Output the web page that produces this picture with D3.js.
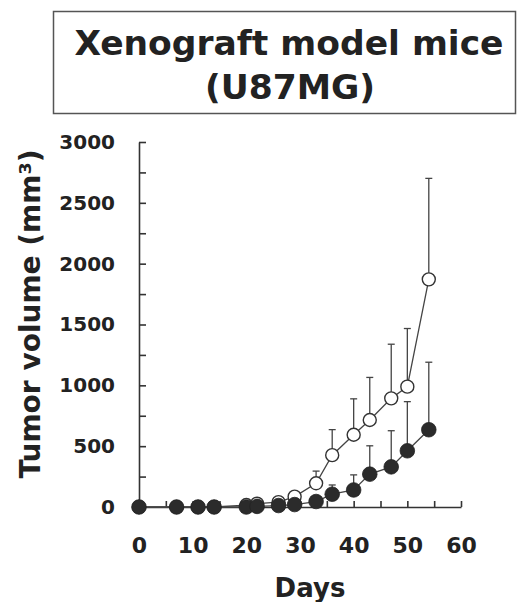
<!DOCTYPE html>
<html>
<head>
<meta charset="utf-8">
<script src="https://cdn.jsdelivr.net/npm/d3@7"></script>
<style>
    body { margin: 0; background: #fff; }
    svg text { font-family: "DejaVu Sans", Verdana, sans-serif; fill: #222; }
</style>
</head>
<body>
<div id="myDiv"></div>
<script>
// Days of measurement
var days = [0, 7, 11, 14, 20, 22, 26, 29, 33, 36, 40, 43, 47, 50, 54];

// Open circles (control group), mean and SD
var controlMean = [0, 0, 0, 0, 16, 27, 40, 85, 195, 426, 594, 715, 893, 989, 1871];
var controlSD = [0, 0, 0, 0, 10, 10, 15, 25, 100, 210, 295, 350, 445, 478, 830];

// Filled circles (treated group), mean and SD
var treatedMean = [0, 0, 0, 0, 0, 5, 12, 20, 45, 105, 140, 270, 330, 462, 635];
var treatedSD = [0, 0, 0, 0, 0, 0, 5, 5, 15, 76, 124, 233, 297, 404, 555];

var yTicks = d3.range(0, 3001, 250);
var xTicks = d3.range(0, 61, 5);

var width = 517, height = 602;

var svg = d3.select("#myDiv")
    .append("svg")
    .attr("width", width)
    .attr("height", height);

// Title box
svg.append("rect")
    .attr("x", 53.5)
    .attr("y", 11.5)
    .attr("width", 462)
    .attr("height", 102)
    .attr("fill", "none")
    .attr("stroke", "#555")
    .attr("stroke-width", 1.5);

svg.append("text")
    .attr("x", 289)
    .attr("y", 55)
    .attr("text-anchor", "middle")
    .attr("font-size", "34.5px")
    .attr("font-weight", "bold")
    .text("Xenograft model mice");

svg.append("text")
    .attr("x", 290)
    .attr("y", 99)
    .attr("text-anchor", "middle")
    .attr("font-size", "34.5px")
    .attr("font-weight", "bold")
    .text("(U87MG)");

var x = d3.scaleLinear().domain([0, 60]).range([139, 461]);
var y = d3.scaleLinear().domain([0, 3000]).range([507, 142]);

// Y axis, ticks pointing inward
var yAxis = svg.append("g")
    .call(d3.axisLeft(y)
        .tickValues(yTicks)
        .tickSizeInner(-7)
        .tickSizeOuter(0)
        .tickPadding(24)
        .tickFormat(function (d) { return d % 500 ? "" : d; }))
    .attr("transform", "translate(" + x(0) + ",0)");

// X axis, ticks pointing inward
var xAxis = svg.append("g")
    .call(d3.axisBottom(x)
        .tickValues(xTicks)
        .tickSizeInner(-6)
        .tickSizeOuter(0)
        .tickPadding(30)
        .tickFormat(function (d) { return d % 10 ? "" : d; }))
    .attr("transform", "translate(0," + y(0) + ")");

[yAxis, xAxis].forEach(function (ax) {
    ax.selectAll("path, line").attr("stroke", "#333").attr("stroke-width", 1.6);
    ax.selectAll("text")
        .attr("font-family", "DejaVu Sans, Verdana, sans-serif")
        .attr("font-weight", "bold")
        .attr("fill", "#222");
});
yAxis.selectAll("text").attr("font-size", "20px");
xAxis.selectAll("text").attr("font-size", "22px");

// Axis titles
svg.append("text")
    .attr("transform", "translate(40,314) rotate(-90)")
    .attr("text-anchor", "middle")
    .attr("font-size", "28px")
    .attr("font-weight", "bold")
    .text("Tumor volume (mm³)");

svg.append("text")
    .attr("x", 310)
    .attr("y", 597)
    .attr("text-anchor", "middle")
    .attr("font-size", "26px")
    .attr("font-weight", "bold")
    .text("Days");

function buildSeries(mean, sd) {
    return days.map(function (d, i) {
        return { day: d, mean: mean[i], sd: sd[i] };
    });
}

var control = buildSeries(controlMean, controlSD);
var treated = buildSeries(treatedMean, treatedSD);

var line = d3.line()
    .x(function (d) { return x(d.day); })
    .y(function (d) { return y(d.mean); });

// Connecting lines
[control, treated].forEach(function (series) {
    svg.append("path")
        .datum(series)
        .attr("d", line)
        .attr("fill", "none")
        .attr("stroke", "#444")
        .attr("stroke-width", 1.3);
});

// Upper error bars
function drawErrors(series) {
    var g = svg.append("g");
    var bars = g.selectAll("g")
        .data(series.filter(function (d) { return d.sd > 0; }))
        .enter().append("g");
    bars.append("line")
        .attr("x1", function (d) { return x(d.day); })
        .attr("x2", function (d) { return x(d.day); })
        .attr("y1", function (d) { return y(d.mean); })
        .attr("y2", function (d) { return y(d.mean + d.sd); })
        .attr("stroke", "#444")
        .attr("stroke-width", 1.3);
    bars.append("line")
        .attr("x1", function (d) { return x(d.day) - 3.5; })
        .attr("x2", function (d) { return x(d.day) + 3.5; })
        .attr("y1", function (d) { return y(d.mean + d.sd); })
        .attr("y2", function (d) { return y(d.mean + d.sd); })
        .attr("stroke", "#444")
        .attr("stroke-width", 1.3);
}
drawErrors(control);
drawErrors(treated);

// Open circles
svg.append("g").selectAll("circle")
    .data(control)
    .enter().append("circle")
    .attr("cx", function (d) { return x(d.day); })
    .attr("cy", function (d) { return y(d.mean); })
    .attr("r", 6.5)
    .attr("fill", "#fff")
    .attr("stroke", "#333")
    .attr("stroke-width", 1.4);

// Filled circles
svg.append("g").selectAll("circle")
    .data(treated)
    .enter().append("circle")
    .attr("cx", function (d) { return x(d.day); })
    .attr("cy", function (d) { return y(d.mean); })
    .attr("r", 7.3)
    .attr("fill", "#2b2b2b")
    .attr("stroke", "#222")
    .attr("stroke-width", 0.8);
</script>
</body>
</html>
